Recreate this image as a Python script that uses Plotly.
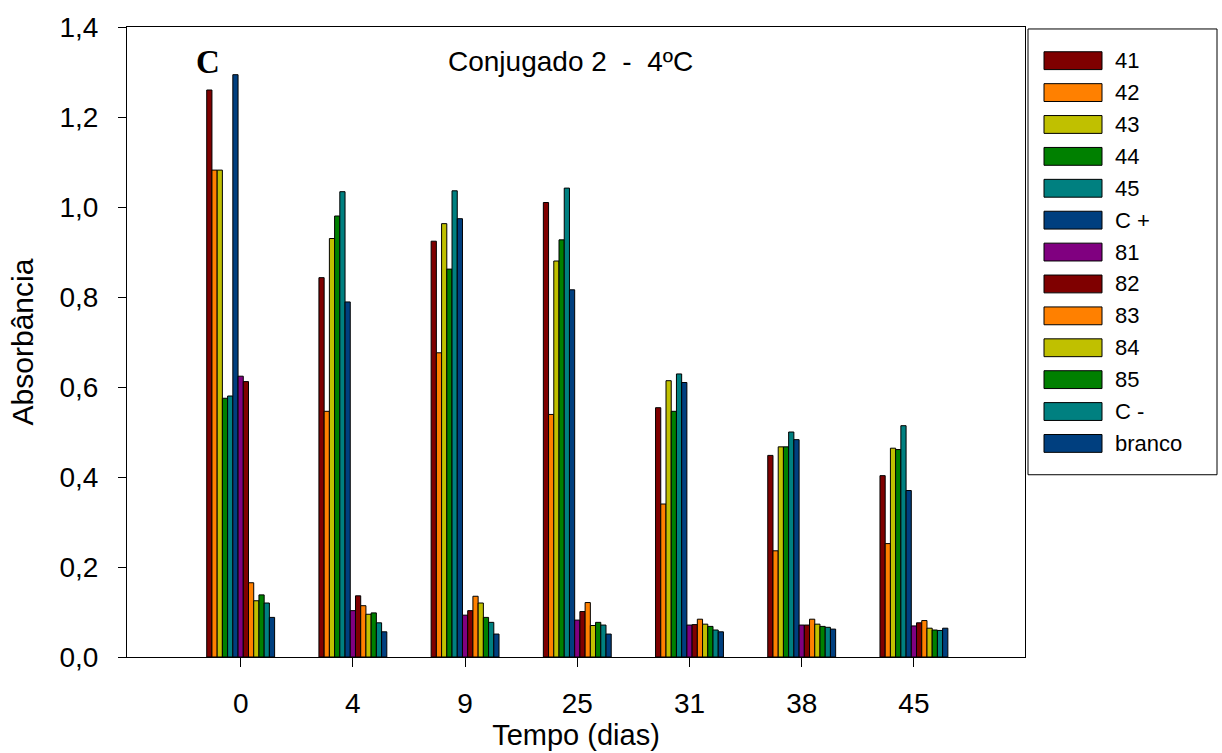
import plotly.graph_objects as go

days = ["0", "4", "9", "25", "31", "38", "45"]
series_names = ["41", "42", "43", "44", "45", "C +", "81", "82", "83", "84", "85", "C -", "branco"]
colors = ["#7f0000", "#ff8000", "#c0c000", "#008000", "#008080", "#003f7f",
          "#800080", "#7f0000", "#ff8000", "#c0c000", "#008000", "#008080", "#003f7f"]

s41 = [1.260, 0.843, 0.924, 1.010, 0.554, 0.448, 0.403]
s42 = [1.082, 0.546, 0.676, 0.539, 0.340, 0.236, 0.252]
s43 = [1.082, 0.930, 0.963, 0.880, 0.614, 0.467, 0.464]
s44 = [0.575, 0.980, 0.862, 0.927, 0.546, 0.467, 0.461]
s45 = [0.580, 1.034, 1.036, 1.042, 0.629, 0.500, 0.514]
sCpos = [1.294, 0.789, 0.974, 0.816, 0.610, 0.483, 0.370]
s81 = [0.624, 0.103, 0.093, 0.082, 0.071, 0.071, 0.069]
s82 = [0.612, 0.136, 0.103, 0.101, 0.072, 0.071, 0.076]
s83 = [0.165, 0.114, 0.135, 0.121, 0.084, 0.084, 0.081]
s84 = [0.125, 0.095, 0.120, 0.070, 0.073, 0.073, 0.064]
s85 = [0.138, 0.098, 0.088, 0.077, 0.068, 0.068, 0.060]
sCneg = [0.120, 0.076, 0.077, 0.071, 0.060, 0.066, 0.059]
sbranco = [0.088, 0.056, 0.051, 0.051, 0.056, 0.062, 0.064]

series_values = [s41, s42, s43, s44, s45, sCpos, s81, s82, s83, s84, s85, sCneg, sbranco]

FONT = "Liberation Sans, Arial, sans-serif"

fig = go.Figure()
xpos = list(range(len(days)))
for name, vals, col in zip(series_names, series_values, colors):
    fig.add_trace(go.Bar(
        x=xpos, y=vals, name=name,
        marker=dict(color=col, line=dict(color="black", width=1)),
        showlegend=False,
    ))

W, H = 1222, 753
L, R, T, B = 127, 1025, 23, 659          # plot area in pixels
pw, ph = R - L, B - T
def px2x(px):
    return (px - L) / pw
def py2y(py):
    return (B - py) / ph

shapes = [dict(type="rect", xref="paper", yref="paper",
               x0=px2x(1028), x1=px2x(1217), y0=py2y(475), y1=py2y(25),
               line=dict(color="black", width=1), fillcolor="white", layer="below")]
annotations = []
for i, (name, col) in enumerate(zip(series_names, colors)):
    cy = 57 + i * 32.2
    shapes.append(dict(type="rect", xref="paper", yref="paper",
                       x0=px2x(1044), x1=px2x(1102), y0=py2y(cy + 9), y1=py2y(cy - 9),
                       line=dict(color="black", width=1), fillcolor=col))
    annotations.append(dict(xref="paper", yref="paper", x=px2x(1113), y=py2y(cy),
                            text=name, showarrow=False, xanchor="left", yanchor="middle",
                            font=dict(family=FONT, size=22, color="black")))

annotations.append(dict(xref="paper", yref="paper", x=px2x(570), y=py2y(58),
                        text="Conjugado 2\u00a0\u00a0-\u00a0\u00a04ºC", showarrow=False,
                        xanchor="center", yanchor="middle",
                        font=dict(family=FONT, size=28, color="black")))
annotations.append(dict(xref="paper", yref="paper", x=px2x(208), y=py2y(58),
                        text="<b>C</b>", showarrow=False,
                        xanchor="center", yanchor="middle",
                        font=dict(family="Liberation Serif, Times New Roman, serif", size=33, color="black")))

fig.update_layout(
    width=W, height=H,
    margin=dict(l=L, r=W - R, t=T, b=H - B, pad=0),
    paper_bgcolor="white", plot_bgcolor="white",
    barmode="group", bargap=0.395, bargroupgap=0,
    separators=",.",
    font=dict(family=FONT, size=28, color="black"),
    shapes=shapes, annotations=annotations,
    xaxis=dict(
        range=[-1.013, 6.99], tickvals=xpos, ticktext=days,
        showline=True, linecolor="black", linewidth=1, mirror=True,
        ticks="outside", ticklen=9, tickcolor="black", showgrid=False, zeroline=False,
        tickfont=dict(family=FONT, size=28), ticklabelstandoff=12,
        ticklabeloverflow="allow",
        title=dict(text="Tempo (dias)", font=dict(family=FONT, size=29), standoff=2),
    ),
    yaxis=dict(
        range=[0, 1.4], dtick=0.2, tick0=0, tickformat=".1f",
        showline=True, linecolor="black", linewidth=1, mirror=True,
        ticks="outside", ticklen=8, tickcolor="black", showgrid=False, zeroline=False,
        tickfont=dict(family=FONT, size=28), ticklabelstandoff=14,
        ticklabeloverflow="allow",
        title=dict(text="Absorbância", font=dict(family=FONT, size=30), standoff=16),
    ),
)

fig.write_html("out.html",
               config={"displayModeBar": False},
               post_script="document.body.style.margin='0';document.body.style.overflow='hidden';")
